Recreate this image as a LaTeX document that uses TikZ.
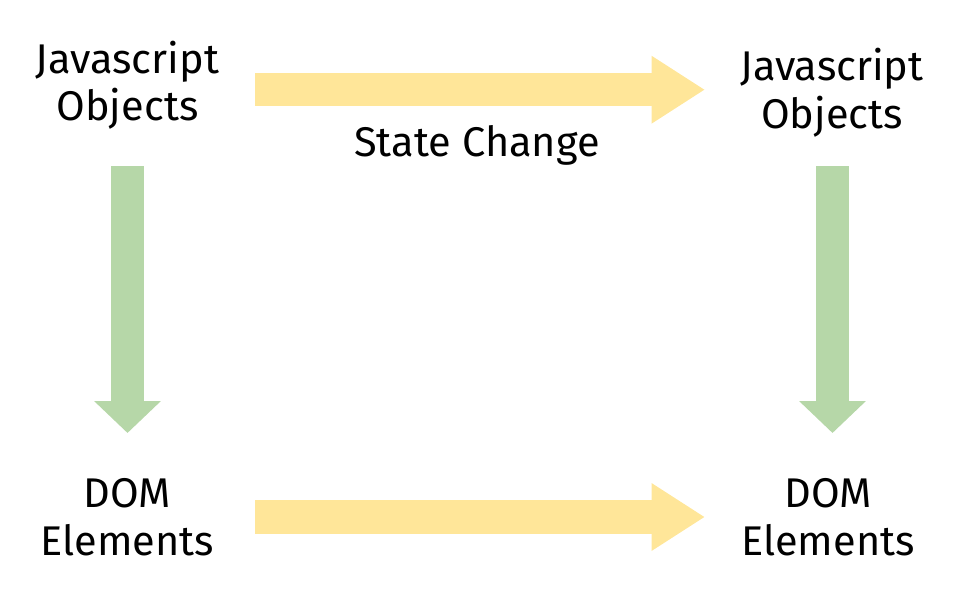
\documentclass[tikz,border=0pt]{standalone}
\usepackage{fontspec}
\setmainfont{Fira Sans}
\usetikzlibrary{arrows.meta}
\definecolor{arrowyellow}{HTML}{FFE699}
\definecolor{arrowgreen}{HTML}{B6D7A8}
\tikzset{
  label text/.style={font=\fontsize{41.5}{47.5}\selectfont, align=center, inner sep=0pt, anchor=base},
  yellow arrow/.style={draw=arrowyellow, line width=33.5pt, line cap=butt,
    -{Triangle[length=53.5pt,width=64pt]}},
  green arrow/.style={draw=arrowgreen, line width=33pt, line cap=butt,
    -{Triangle[length=32pt,width=65pt]}},
}
\begin{document}
\begin{tikzpicture}[x=1pt,y=-1pt]
\useasboundingbox (0,0) rectangle (960,600);
\node[label text] (jsL) at (127.5,120.7) {Javascript\\Objects};
\node[label text] (jsR) at (832,128) {Javascript\\Objects};
\node[label text] (domL) at (127.5,555) {DOM\\Elements};
\node[label text] (domR) at (828,555) {DOM\\Elements};
\node[label text] (state) at (477,156) {State Change};
\coordinate (ty1) at (255,89.7);
\coordinate (ty2) at (705,89.7);
\coordinate (by1) at (255,517);
\coordinate (by2) at (705,517);
\coordinate (lg1) at (127.5,166);
\coordinate (lg2) at (127.5,433);
\coordinate (rg1) at (832.5,166);
\coordinate (rg2) at (832.5,433);
\draw[yellow arrow] (ty1) -- (ty2);
\draw[yellow arrow] (by1) -- (by2);
\draw[green arrow] (lg1) -- (lg2);
\draw[green arrow] (rg1) -- (rg2);
\end{tikzpicture}
\end{document}
